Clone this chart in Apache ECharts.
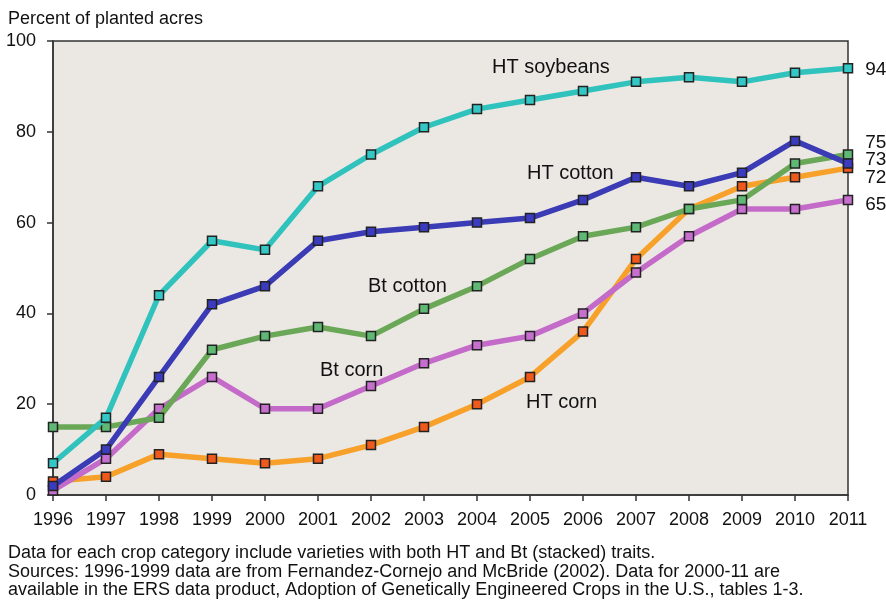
<!DOCTYPE html>
<html>
<head>
<meta charset="utf-8">
<script src="https://cdn.jsdelivr.net/npm/echarts@6/dist/echarts.min.js"></script>
<style>
html,body{margin:0;padding:0;background:#fff;}
#chart{width:886px;height:601px;}
</style>
</head>
<body>
<div id="chart"></div>
<script>
const years = ['1996','1997','1998','1999','2000','2001','2002','2003','2004','2005','2006','2007','2008','2009','2010','2011'];
const htSoybeans = [7,17,44,56,54,68,75,81,85,87,89,91,92,91,93,94];
const htCotton   = [2,10,26,42,46,56,58,59,60,61,65,70,68,71,78,73];
const btCotton   = [15,15,17,32,35,37,35,41,46,52,57,59,63,65,73,75];
const btCorn     = [1,8,19,26,19,19,24,29,33,35,40,49,57,63,63,65];
const htCorn     = [3,4,9,8,7,8,11,15,20,26,36,52,63,68,70,72];
const yTicks = [0,20,40,60,80,100];

const font = '"Liberation Sans", Arial, sans-serif';
const chart = echarts.init(document.getElementById('chart'));

function mk(name, data, lineColor, markColor, endOffset, z) {
  return {
    name: name, type: 'line', data: data.map((v, i) => {
      if (i === data.length - 1) {
        return { value: v, label: { show: true, position: 'right', distance: 12, offset: [0, endOffset],
          formatter: '{c}', color: '#111', fontSize: 19, fontFamily: font } };
      }
      return v;
    }),
    symbol: 'rect', symbolSize: 9, z: z,
    lineStyle: { color: lineColor, width: 5.5 },
    itemStyle: { color: markColor, borderColor: '#222', borderWidth: 1.5 },
    emphasis: { disabled: true }, animation: false
  };
}

chart.setOption({
  backgroundColor: '#fff',
  animation: false,
  grid: { left: 53, right: 38, top: 41, bottom: 106, show: true, backgroundColor: '#ebe8e4', borderColor: '#333', borderWidth: 1.5 },
  xAxis: {
    type: 'category', data: years, boundaryGap: false,
    axisLine: { show: true, lineStyle: { color: '#333', width: 1.5 } },
    axisTick: { show: true, inside: false, length: 6, lineStyle: { color: '#333', width: 1.5 } },
    axisLabel: { color: '#111', fontSize: 18, fontFamily: font, margin: 16 },
    splitLine: { show: false }
  },
  yAxis: {
    type: 'value', min: 0, max: 100, interval: 20,
    axisLine: { show: true, lineStyle: { color: '#333', width: 1.5 } },
    axisTick: { show: true, length: 6, lineStyle: { color: '#333', width: 1.5 } },
    axisLabel: { color: '#111', fontSize: 18, fontFamily: font, margin: 17, formatter: v => yTicks.includes(v) ? String(v) : '' },
    splitLine: { show: false }
  },
  series: [
    mk('HT corn', htCorn, '#f8a12a', '#ef5a1c', 10, 2),
    mk('Bt corn', btCorn, '#c46bc9', '#c66fcf', 5, 3),
    mk('Bt cotton', btCotton, '#6aa858', '#5fb874', -12, 4),
    mk('HT cotton', htCotton, '#3a3bb5', '#3b3bc0', -4, 5),
    mk('HT soybeans', htSoybeans, '#30c2bd', '#33c7c6', 2, 6)
  ],
  graphic: [
    { type: 'text', left: 8, top: 10, style: { text: 'Percent of planted acres', fill: '#111', font: '18px ' + font } },
    { type: 'text', left: 492, top: 57, style: { text: 'HT soybeans', fill: '#111', font: '20px ' + font } },
    { type: 'text', left: 527, top: 163, style: { text: 'HT cotton', fill: '#111', font: '20px ' + font } },
    { type: 'text', left: 368, top: 276, style: { text: 'Bt cotton', fill: '#111', font: '20px ' + font } },
    { type: 'text', left: 320, top: 360, style: { text: 'Bt corn', fill: '#111', font: '20px ' + font } },
    { type: 'text', left: 526, top: 392, style: { text: 'HT corn', fill: '#111', font: '20px ' + font } },
    { type: 'text', left: 8, top: 544, style: { text: 'Data for each crop category include varieties with both HT and Bt (stacked) traits.', fill: '#111', font: '18px ' + font } },
    { type: 'text', left: 8, top: 563, style: { text: 'Sources: 1996-1999 data are from Fernandez-Cornejo and McBride (2002). Data for 2000-11 are', fill: '#111', font: '18px ' + font } },
    { type: 'text', left: 8, top: 581, style: { text: 'available in the ERS data product, Adoption of Genetically Engineered Crops in the U.S., tables 1-3.', fill: '#111', font: '18px ' + font } }
  ]
});
</script>
</body>
</html>
